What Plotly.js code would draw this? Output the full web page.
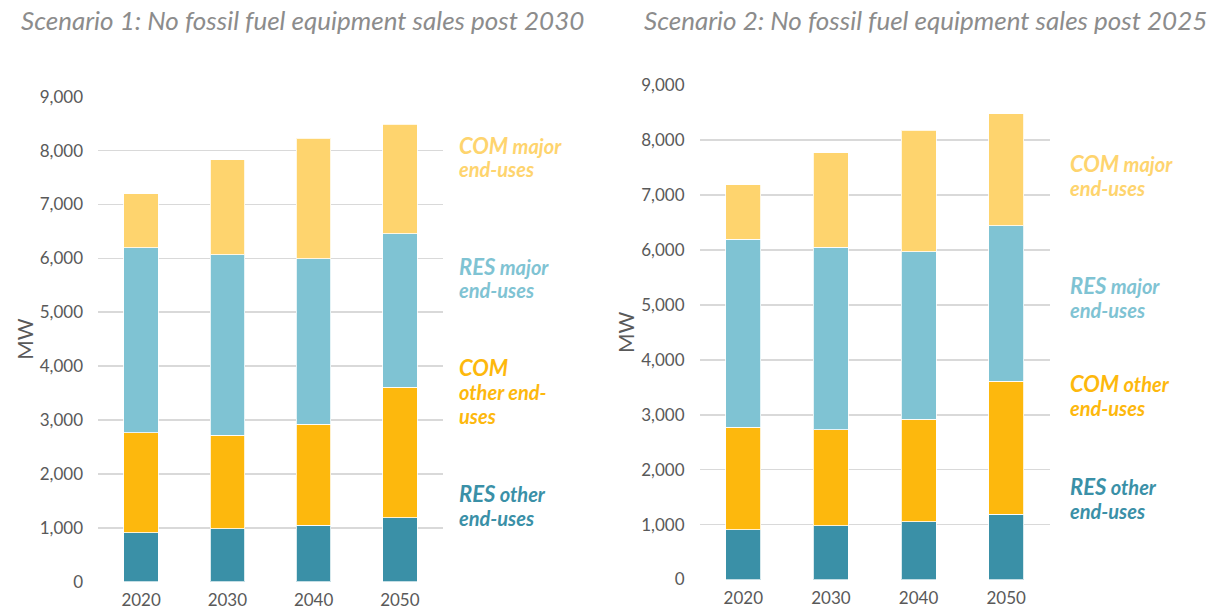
<!DOCTYPE html>
<html>
<head>
<meta charset="utf-8">
<script src="https://cdn.plot.ly/plotly-3.0.1.min.js"></script>
<style>html,body{margin:0;padding:0;background:#fff;}#chart{width:1214px;height:615px;}</style>
</head>
<body>
<div id="chart"></div>
<script>
// ---- data ----
const years = ['2020', '2030', '2040', '2050'];
const seriesNames = ['RES other end-uses', 'COM other end-uses', 'RES major end-uses', 'COM major end-uses'];
const seriesColors = ['#3A90A7', '#FDB80D', '#7FC3D3', '#FED46E'];

// Scenario 1: No fossil fuel equipment sales post 2030 (MW)
const s1_resOther = [905, 980, 1050, 1190];
const s1_comOther = [1855, 1740, 1870, 2420];
const s1_resMajor = [3440, 3350, 3070, 2850];
const s1_comMajor = [1000, 1760, 2240, 2030];

// Scenario 2: No fossil fuel equipment sales post 2025 (MW)
const s2_resOther = [910, 980, 1050, 1190];
const s2_comOther = [1860, 1750, 1870, 2420];
const s2_resMajor = [3430, 3320, 3050, 2830];
const s2_comMajor = [990, 1720, 2210, 2040];

const titles = ['Scenario 1: No fossil fuel equipment sales post 2030',
                'Scenario 2: No fossil fuel equipment sales post 2025'];
const yTitle = 'MW';

// ---- build ----
const W = 1214, H = 615;
const px = x => x / W;
const py = y => 1 - y / H;

const s1 = [s1_resOther, s1_comOther, s1_resMajor, s1_comMajor];
const s2 = [s2_resOther, s2_comOther, s2_resMajor, s2_comMajor];

const traces = [];
[s1, s2].forEach((set, k) => {
  set.forEach((vals, i) => {
    traces.push({
      type: 'bar',
      x: years,
      y: vals,
      name: seriesNames[i],
      xaxis: k === 0 ? 'x' : 'x2',
      yaxis: k === 0 ? 'y' : 'y2',
      marker: {color: seriesColors[i], line: {color: 'rgba(255,255,255,0.8)', width: 1}},
      showlegend: false,
      hoverinfo: 'x+y+name'
    });
  });
});

const tickFont = {family: 'Lato, "Open Sans", sans-serif', size: 17, color: '#595959'};

function yax(domain) {
  return {
    domain: domain, range: [0, 9000], dtick: 1000, tickformat: ',d',
    showgrid: true, gridcolor: '#D9D9D9', gridwidth: 1.6, zeroline: false,
    showline: false, ticks: '', ticklabelstandoff: 14, tickfont: tickFont,
    automargin: false, fixedrange: true,
    title: {text: yTitle, font: {family: 'Lato, sans-serif', size: 21, color: '#595959'}, standoff: 0}
  };
}
function xax(domain, anchor) {
  return {
    domain: domain, anchor: anchor, type: 'category', categoryorder: 'array', categoryarray: years,
    range: [-0.5, 3.5], showgrid: false, zeroline: false, showline: false, ticks: '',
    tickfont: tickFont, ticklabelstandoff: 6, automargin: false, fixedrange: true
  };
}

const ann = [];
function title(text, cx, cy) {
  ann.push({text: '<i>' + text + '</i>', xref: 'paper', yref: 'paper', x: px(cx), y: py(cy),
    xanchor: 'center', yanchor: 'middle', showarrow: false,
    font: {family: 'Lato, "Open Sans", sans-serif', size: 26, color: '#8C8C8C'}});
}
title(titles[0], 302, 20);
title(titles[1], 925, 20);

// each label line placed separately so line spacing matches
function label(lines, color, x, ys) {
  lines.forEach((ln, i) => {
    let txt = ln.replace(/^(COM|RES)/, '<span style="font-size:22px">$1</span>');
    ann.push({text: '<b><i>' + txt + '</i></b>',
      xref: 'paper', yref: 'paper', x: px(x), y: py(ys[i]), xanchor: 'left', yanchor: 'middle',
      align: 'left', showarrow: false,
      font: {family: 'Lato, "Open Sans", sans-serif', size: 20, color: color, weight: 800}});
  });
}
// left chart labels
label(['COM major', 'end-uses'], seriesColors[3], 457, [145, 169]);
label(['RES major', 'end-uses'], seriesColors[2], 457, [266, 290]);
label(['COM', 'other end-', 'uses'], seriesColors[1], 457, [367, 392, 416]);
label(['RES other', 'end-uses'], seriesColors[0], 457, [493, 518]);
// right chart labels
label(['COM major', 'end-uses'], seriesColors[3], 1068, [164, 188]);
label(['RES major', 'end-uses'], seriesColors[2], 1068, [285, 310]);
label(['COM other', 'end-uses'], seriesColors[1], 1068, [383, 408]);
label(['RES other', 'end-uses'], seriesColors[0], 1068, [486, 511]);

const layout = {
  width: W, height: H,
  margin: {l: 0, r: 0, t: 0, b: 0},
  paper_bgcolor: '#fff', plot_bgcolor: '#fff',
  barmode: 'stack', bargap: 0.6,
  showlegend: false,
  xaxis: xax([px(98), px(443)], 'y'),
  yaxis: yax([py(581.7), py(96.7)]),
  xaxis2: xax([px(699.5), px(1050)], 'y2'),
  yaxis2: yax([py(579.5), py(85.3)]),
  annotations: ann
};
layout.yaxis.anchor = 'x';
layout.yaxis2.anchor = 'x2';

Plotly.newPlot('chart', traces, layout, {displayModeBar: false, staticPlot: true});
</script>
</body>
</html>
